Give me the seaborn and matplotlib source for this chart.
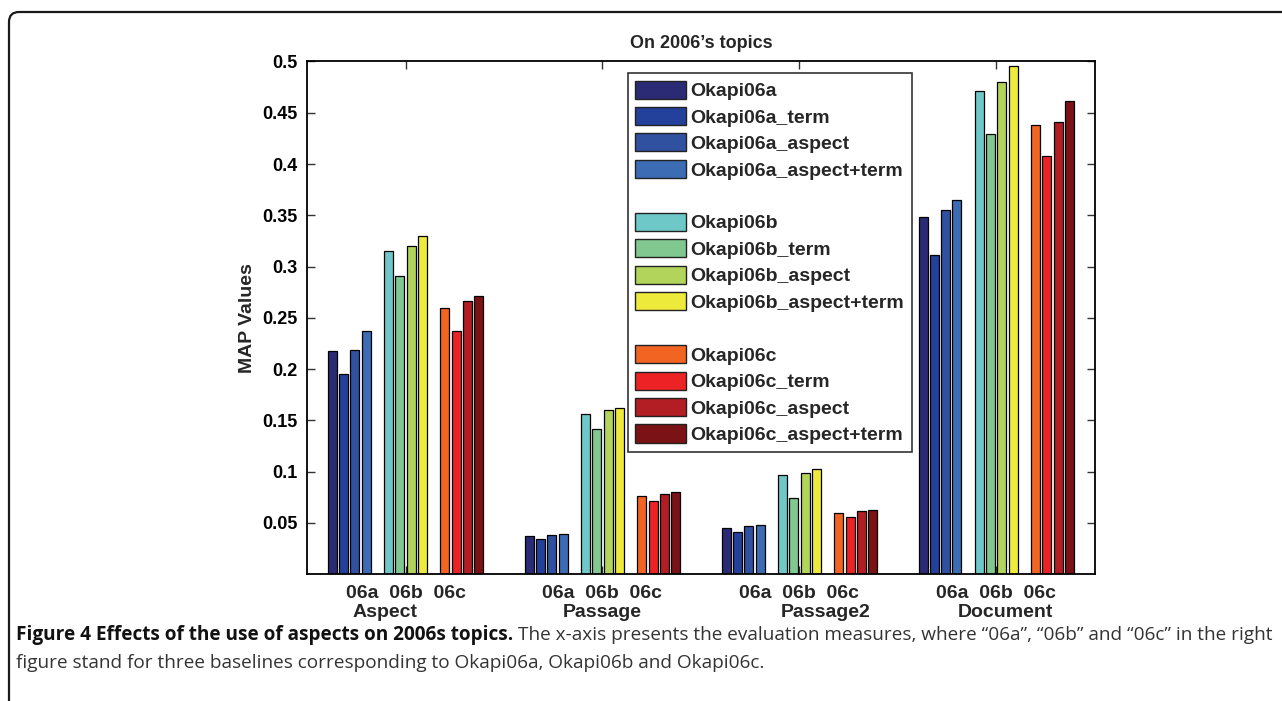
import matplotlib
matplotlib.use("Agg")
import matplotlib.pyplot as plt
import matplotlib.patches as mpatches
from matplotlib.transforms import IdentityTransform, offset_copy
import seaborn as sns
import pandas as pd

# ---------------- data ----------------
measures = ["Aspect", "Passage", "Passage2", "Document"]
sub_labels = "06a  06b  06c"

okapi06a = [0.218, 0.037, 0.045, 0.348]
okapi06a_term = [0.195, 0.034, 0.041, 0.311]
okapi06a_aspect = [0.219, 0.038, 0.047, 0.355]
okapi06a_aspect_term = [0.237, 0.039, 0.048, 0.365]
okapi06b = [0.315, 0.156, 0.097, 0.471]
okapi06b_term = [0.291, 0.142, 0.074, 0.429]
okapi06b_aspect = [0.320, 0.160, 0.099, 0.480]
okapi06b_aspect_term = [0.330, 0.162, 0.103, 0.496]
okapi06c = [0.260, 0.076, 0.060, 0.438]
okapi06c_term = [0.237, 0.071, 0.056, 0.408]
okapi06c_aspect = [0.266, 0.078, 0.062, 0.441]
okapi06c_aspect_term = [0.271, 0.080, 0.063, 0.461]

run_names = ["Okapi06a", "Okapi06a_term", "Okapi06a_aspect", "Okapi06a_aspect+term",
             "Okapi06b", "Okapi06b_term", "Okapi06b_aspect", "Okapi06b_aspect+term",
             "Okapi06c", "Okapi06c_term", "Okapi06c_aspect", "Okapi06c_aspect+term"]
run_values = [okapi06a, okapi06a_term, okapi06a_aspect, okapi06a_aspect_term,
              okapi06b, okapi06b_term, okapi06b_aspect, okapi06b_aspect_term,
              okapi06c, okapi06c_term, okapi06c_aspect, okapi06c_aspect_term]
run_colors = ["#2a2a75", "#23409a", "#3050a0", "#3c6cb4",
              "#6ec8c8", "#80c890", "#b2d45a", "#eeea3c",
              "#f26422", "#ed2224", "#b21e24", "#7a1216"]

title = "On 2006\u2019s topics"
ylabel = "MAP Values"
yticks = [0.05, 0.1, 0.15, 0.2, 0.25, 0.3, 0.35, 0.4, 0.45, 0.5]
ytick_labels = ["0.05", "0.1", "0.15", "0.2", "0.25", "0.3", "0.35", "0.4", "0.45", "0.5"]
caption_bold = "Figure 4 Effects of the use of aspects on 2006s topics."
caption_rest1 = ("The x-axis presents the evaluation measures, where \u201c06a\u201d, \u201c06b\u201d "
                 "and \u201c06c\u201d in the right")
caption_line2 = "figure stand for three baselines corresponding to Okapi06a, Okapi06b and Okapi06c."

# ---------------- table ----------------
rows = []
for name, vals in zip(run_names, run_values):
    for m, v in zip(measures, vals):
        rows.append({"measure": m, "run": name, "value": v})
df = pd.DataFrame(rows)

# hue order with two empty slots separating the baselines (as in the original)
blank1, blank2 = " ", "  "
hue_order = run_names[:4] + [blank1] + run_names[4:8] + [blank2] + run_names[8:]
palette = dict(zip(run_names, run_colors))
palette[blank1] = "white"
palette[blank2] = "white"

# ---------------- figure ----------------
sns.set_theme(style="white")
plt.rcParams["font.family"] = ["Liberation Sans", "DejaVu Sans"]
plt.rcParams["font.weight"] = "bold"

fig = plt.figure(figsize=(12.82, 7.01), dpi=100)
ax = fig.add_axes([0.2395, 0.181, 0.6145, 0.7313])

sns.barplot(data=df, x="measure", y="value", hue="run", order=measures,
            hue_order=hue_order, palette=palette, dodge=True, width=0.8, gap=0.2,
            edgecolor="black", linewidth=0.9, errorbar=None, legend=False,
            saturation=1, ax=ax)

ax.set_xlim(-0.5, len(measures) - 0.5)
ax.set_ylim(0, 0.5)
ax.set_yticks(yticks)
ax.set_yticklabels(ytick_labels, fontsize=13, fontweight="bold")
ax.set_xticks(range(len(measures)))
ax.set_xticklabels([])
ax.set_xlabel("")
ax.set_ylabel(ylabel, fontsize=14, fontweight="bold", labelpad=4)
ax.set_title(title, fontsize=13, fontweight="bold", pad=10)
ax.tick_params(axis="both", direction="in", length=6, width=1, color="#333333",
               top=True, right=True, bottom=True, left=True, pad=7, labelcolor="black")
for sp in ax.spines.values():
    sp.set_visible(True)
    sp.set_color("black")
    sp.set_linewidth(1.3)

# two-line x labels
name_offsets = [-20, 0, 26, 9]
for i, m in enumerate(measures):
    ax.text(i, -0.0185, sub_labels, ha="center", va="center", fontsize=14,
            fontweight="bold", transform=ax.transData, clip_on=False)
    tr = offset_copy(ax.transData, fig=fig, x=name_offsets[i] * 0.72, y=0, units="points")
    ax.text(i, -0.0375, m, ha="center", va="center", fontsize=14,
            fontweight="bold", transform=tr, clip_on=False)

# legend with blank separator rows
handles = []
labels = []
for h in hue_order:
    if h.strip() == "":
        handles.append(mpatches.Patch(facecolor="none", edgecolor="none"))
        labels.append(" ")
    else:
        handles.append(mpatches.Patch(facecolor=palette[h], edgecolor="#222222", linewidth=1))
        labels.append(h)
leg = ax.legend(handles, labels, loc="upper left", bbox_to_anchor=(0.407, 0.978),
                borderaxespad=0, fontsize=14, frameon=True, fancybox=False,
                edgecolor="black", handlelength=2.58, handleheight=1.05,
                labelspacing=0.35, handletextpad=0.25, borderpad=0.4)
leg.get_frame().set_linewidth(1.2)
for t in leg.get_texts():
    t.set_fontweight("bold")

# figure border (rounded top-left corner)
border = mpatches.FancyBboxPatch((9, -40), 1400, 689 + 40,
                                 boxstyle="round,pad=0,rounding_size=10",
                                 transform=IdentityTransform(), facecolor="none",
                                 edgecolor="#1a1a1a", linewidth=1.6, clip_on=False)
fig.add_artist(border)

# caption
cap_font = ["Open Sans", "DejaVu Sans"]
fs = 12
y1 = 1 - 640 / 701
y2 = 1 - 668 / 701
t1 = fig.text(16 / 1282, y1, caption_bold, fontsize=fs, fontweight="bold",
              family=cap_font, color="#111111", va="baseline", ha="left")
t2 = fig.text(0, 0, caption_rest1, fontsize=fs, fontweight="normal",
              family=cap_font, color="#333333", va="baseline", ha="left")
t3 = fig.text(16 / 1282, y2, caption_line2, fontsize=fs, fontweight="normal",
              family=cap_font, color="#333333", va="baseline", ha="left")
fig.canvas.draw()
r = fig.canvas.get_renderer()
# fit the first caption line to the reference width (16 px -> 1270 px)
w1 = t1.get_window_extent(r).width
sp = 5
w2 = t2.get_window_extent(r).width
scale = (1270 - 16 - sp) / (w1 + w2)
for t in (t1, t2, t3):
    t.set_fontsize(fs * scale)
fig.canvas.draw()
w1 = t1.get_window_extent(r).width
t2.set_position(((16 + w1 + sp) / 1282, y1))

fig.savefig("out.png", dpi=100)
